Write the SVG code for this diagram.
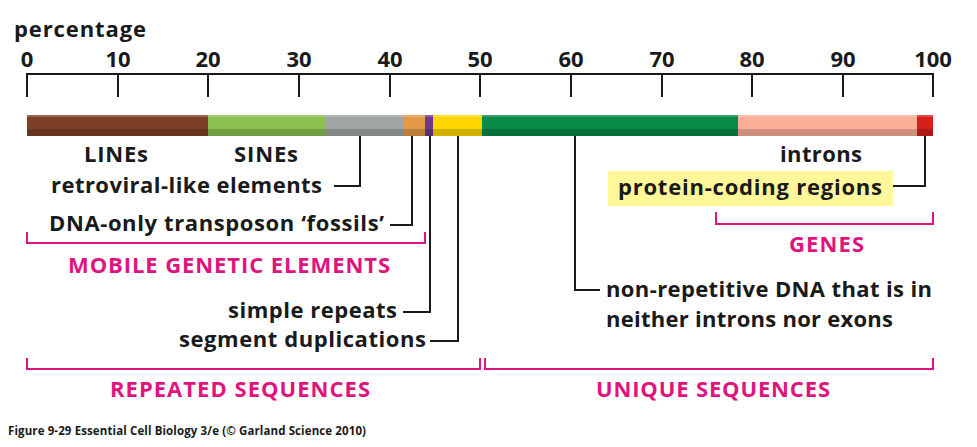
<svg xmlns="http://www.w3.org/2000/svg" width="977" height="447" viewBox="0 0 977 447">
<style>
.t{font-family:"Open Sans","Liberation Sans",sans-serif;font-weight:bold;font-size:22px;fill:#1a1a1a}
.m{font-family:"Open Sans","Liberation Sans",sans-serif;font-weight:bold;font-size:22px;fill:#e0147f}
.n{font-family:"Open Sans","Liberation Sans",sans-serif;font-weight:bold;font-size:22px;fill:#1a1a1a;text-anchor:middle}
.k{stroke:#1a1a1a;stroke-width:2;fill:none}
.b{stroke:#e0147f;stroke-width:2;fill:none}
.s{fill:#000;opacity:0.18}
</style>
<rect width="977" height="447" fill="#fff"/>
<g id="axis">
<text class="t" x="14" y="37" textLength="132">percentage</text>
<path class="k" d="M27,97V74H933V97M118,74V97M208,74V97M299,74V97M390,74V97M480,74V97M571,74V97M662,74V97M752,74V97M843,74V97"/>
<text class="n" x="27" y="67">0</text><text class="n" x="118" y="67">10</text><text class="n" x="208" y="67">20</text><text class="n" x="299" y="67">30</text><text class="n" x="390" y="67">40</text><text class="n" x="480" y="67">50</text><text class="n" x="571" y="67">60</text><text class="n" x="662" y="67">70</text><text class="n" x="752" y="67">80</text><text class="n" x="843" y="67">90</text><text class="n" x="933" y="67">100</text>
</g>
<g id="bar">
<rect x="27" y="115" width="181" height="21" fill="#7e3f27"/>
<rect x="208" y="115" width="117" height="21" fill="#8cc152"/>
<rect x="325" y="115" width="78" height="21" fill="#9ea5a2"/>
<rect x="403" y="115" width="22" height="21" fill="#e49a48"/>
<rect x="425" y="115" width="8" height="21" fill="#6b3a8c"/>
<rect x="433" y="115" width="49" height="21" fill="#ffd700"/>
<rect x="482" y="115" width="256" height="21" fill="#0a8a47"/>
<rect x="738" y="115" width="179" height="21" fill="#fcae98"/>
<rect x="917" y="115" width="16" height="21" fill="#d81e1e"/>
<rect class="s" x="27" y="129" width="906" height="7"/>
<rect x="27" y="115" width="906" height="2" fill="#fff" opacity="0.2"/>
</g>
<g id="connectors">
<path class="k" d="M360,136V186H334M412,136V225H390M430,136V312H403M458,136V341H430M575,136V290H600M925,136V186H893"/>
</g>
<g id="labels">
<text class="t" x="84" y="162" textLength="64">LINEs</text>
<text class="t" x="234" y="162" textLength="64">SINEs</text>
<text class="t" x="51" y="193" textLength="271">retroviral-like elements</text>
<text class="t" x="49" y="231" textLength="335">DNA-only transposon ‘fossils’</text>
<text class="t" x="228" y="318" textLength="169">simple repeats</text>
<text class="t" x="179" y="347" textLength="247">segment duplications</text>
<text class="t" x="606" y="297" textLength="326">non-repetitive DNA that is in</text>
<text class="t" x="606" y="327" textLength="287">neither introns nor exons</text>
<text class="t" x="780" y="162" textLength="82">introns</text>
</g>
<g id="genes">
<rect x="608" y="171" width="285" height="35" fill="#fff799"/>
<text class="t" x="618" y="195" textLength="264">protein-coding regions</text>
<path class="b" d="M716,212V224H933V212"/>
<text class="m" x="789" y="252" textLength="75">GENES</text>
</g>
<g id="brackets">
<path class="b" d="M27,232V243H425V232"/>
<text class="m" x="68" y="273" textLength="322">MOBILE GENETIC ELEMENTS</text>
<path class="b" d="M27,358V369H480V358M485,358V369H933V358"/>
<text class="m" x="110" y="397" textLength="260">REPEATED SEQUENCES</text>
<text class="m" x="596" y="397" textLength="234">UNIQUE SEQUENCES</text>
</g>
<text x="8" y="435" textLength="358" style="font-family:'Open Sans','Liberation Sans',sans-serif;font-weight:bold;font-size:11.5px;fill:#1a1a1a">Figure 9-29  Essential Cell Biology 3/e (© Garland Science 2010)</text>
</svg>
